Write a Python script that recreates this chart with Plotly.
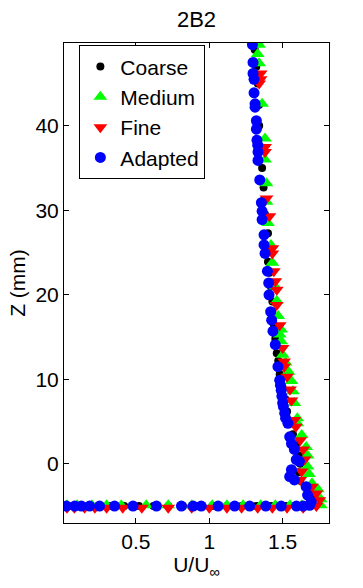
import plotly.graph_objects as go

# Coarse grid
coarse_u = [0.02, 0.07, 0.12, 0.18, 0.25, 0.33, 0.42, 0.52, 0.62, 0.72, 0.82, 0.92, 1.02, 1.12,
            1.22, 1.32, 1.42, 1.52, 1.60, 1.66,
            1.70, 1.72, 1.70, 1.66, 1.62, 1.61, 1.62, 1.61, 1.59, 1.57, 1.55, 1.53, 1.52, 1.50,
            1.48, 1.47, 1.46, 1.45, 1.44, 1.43, 1.43, 1.42, 1.41, 1.40, 1.40, 1.40, 1.38, 1.37,
            1.37, 1.36, 1.35, 1.34, 1.34, 1.33, 1.32, 1.31, 1.31]
coarse_z = [-5.0, -5.0, -5.0, -5.0, -5.0, -5.0, -5.0, -5.0, -5.0, -5.0, -5.0, -5.0, -5.0, -5.0,
            -5.0, -5.0, -5.0, -5.0, -5.0, -5.0,
            -4.6, -4.0, -3.3, -2.6, -2.0, -1.0, 0.0, 1.0, 2.2, 3.5, 4.8, 6.2, 7.6, 9.0,
            10.6, 12.2, 13.1, 14.8, 16.5, 18.0, 19.2, 21.0, 22.6, 23.9, 25.5, 27.3, 29.5, 31.2,
            32.7, 35.0, 37.5, 40.0, 42.5, 45.0, 47.0, 49.0, 49.6]

# Medium grid
medium_u = [0.03, 0.10, 0.20, 0.30, 0.40, 0.57, 0.72, 0.88, 1.02, 1.12, 1.23, 1.35, 1.45, 1.55, 1.63,
            1.76, 1.76, 1.74, 1.70, 1.68, 1.67, 1.67, 1.66, 1.63, 1.60, 1.60, 1.58, 1.57, 1.56,
            1.54, 1.52, 1.50, 1.49, 1.49, 1.48, 1.47, 1.46, 1.45, 1.43, 1.42, 1.40, 1.39, 1.39,
            1.38, 1.38, 1.36, 1.34, 1.33, 1.34]
medium_z = [-4.9, -4.9, -4.9, -4.9, -4.9, -4.9, -4.9, -4.9, -4.9, -4.9, -4.9, -4.9, -4.9, -4.9, -4.9,
            -4.9, -4.2, -3.0, -2.3, -1.2, -0.3, 1.0, 2.0, 3.4, 4.8, 5.4, 7.2, 8.6, 9.8,
            10.9, 12.0, 12.9, 14.5, 15.9, 15.3, 17.5, 19.3, 21.0, 23.8, 25.9, 28.5, 31.0, 33.2,
            36.0, 38.5, 42.6, 47.4, 48.5, 49.6]

# Fine grid
fine_u = [0.03, 0.08, 0.15, 0.22, 0.30, 0.41, 0.54, 0.72, 0.88, 1.00, 1.12, 1.22, 1.33, 1.43, 1.53, 1.64,
          1.73, 1.75, 1.73, 1.70, 1.62, 1.63, 1.65, 1.64, 1.62, 1.59, 1.58, 1.56, 1.55, 1.53,
          1.51, 1.51, 1.50, 1.48, 1.46, 1.46, 1.45, 1.44, 1.43, 1.43, 1.41, 1.39, 1.38, 1.38,
          1.34, 1.35, 1.35]
fine_z = [-5.2, -5.2, -5.2, -5.2, -5.2, -5.2, -5.2, -5.2, -5.2, -5.2, -5.2, -5.2, -5.2, -5.2, -5.2, -5.2,
          -5.0, -4.3, -3.5, -2.7, -1.9, -0.9, 0.5, 1.7, 2.8, 4.4, 5.2, 7.5, 8.8, 10.3,
          11.5, 12.1, 13.7, 16.4, 18.8, 20.6, 21.6, 22.8, 24.9, 25.5, 29.3, 31.4, 36.9, 37.5,
          45.0, 45.5, 46.2]

# Adapted grid
adapted_u = [0.026, 0.083, 0.128, 0.184, 0.252, 0.354, 0.48, 0.64, 0.81, 0.89, 0.945, 1.06, 1.173,
             1.275, 1.385, 1.49, 1.594, 1.64,
             1.684, 1.695, 1.67, 1.66, 1.58, 1.548, 1.56, 1.614, 1.593, 1.58, 1.56, 1.548, 1.536,
             1.52, 1.514, 1.505, 1.50, 1.495, 1.49, 1.485, 1.48, 1.468, 1.45, 1.434, 1.425, 1.418,
             1.407, 1.405, 1.396, 1.38, 1.373, 1.373, 1.36, 1.36, 1.355, 1.344, 1.332, 1.332, 1.33,
             1.325, 1.321, 1.321, 1.312, 1.312, 1.305, 1.305, 1.298, 1.298, 1.294]
adapted_z = [-5.0, -5.0, -5.0, -5.0, -5.0, -5.0, -5.0, -5.0, -5.0, -5.0, -5.0, -5.0, -5.0,
             -5.0, -5.0, -5.0, -5.0, -5.0,
             -4.9, -4.5, -3.7, -2.7, -1.9, -1.5, -0.7, 0.3, 0.5, 1.7, 2.4, 3.2, 4.8,
             5.4, 6.0, 6.8, 7.2, 8.0, 8.7, 9.3, 9.9, 11.5, 14.1, 15.7, 17.0, 18.0,
             20.0, 21.4, 22.8, 24.9, 25.9, 27.1, 28.9, 29.9, 30.9, 33.6, 35.9, 36.9, 37.7,
             38.3, 39.6, 40.6, 42.2, 42.6, 43.9, 45.5, 46.2, 47.5, 49.6]

fig = go.Figure()
fig.add_trace(go.Scatter(x=coarse_u, y=coarse_z, mode='markers', name='Coarse',
                         marker=dict(symbol='circle', size=8, color='black')))
fig.add_trace(go.Scatter(x=medium_u, y=medium_z, mode='markers', name='Medium',
                         marker=dict(symbol='triangle-up', size=12, color='#00ff00')))
fig.add_trace(go.Scatter(x=fine_u, y=fine_z, mode='markers', name='Fine',
                         marker=dict(symbol='triangle-down', size=12, color='#ff0000')))
fig.add_trace(go.Scatter(x=adapted_u, y=adapted_z, mode='markers', name='Adapted',
                         marker=dict(symbol='circle', size=11, color='#0000ff')))

axis_style = dict(showgrid=False, zeroline=False, showline=True, linecolor='black', linewidth=1,
                  mirror='ticks', ticks='inside', ticklen=5, tickcolor='black',
                  tickfont=dict(size=21, color='black'))

fig.update_layout(
    width=363, height=588,
    margin=dict(l=64, r=34, t=43, b=65),
    paper_bgcolor='white', plot_bgcolor='white',
    font=dict(family='Liberation Sans, Arial, sans-serif', color='black'),
    title=dict(text='2B2', x=0.5, xref='paper', y=1 - 19 / 588, yref='container',
               yanchor='middle', font=dict(size=22)),
    xaxis=dict(range=[0.0095, 1.816], tickvals=[0.5, 1, 1.5], ticktext=['0.5', '1', '1.5'],
               title=dict(text='U/U<sub>∞</sub>', font=dict(size=21), standoff=0), **axis_style),
    yaxis=dict(range=[-7, 49.8], tickvals=[0, 10, 20, 30, 40],
               title=dict(text='Z (mm)', font=dict(size=21), standoff=4), **axis_style),
    legend=dict(x=0.058, y=0.995, xanchor='left', yanchor='top', bgcolor='white',
                bordercolor='black', borderwidth=1, font=dict(size=21), itemwidth=30),
)

# the page's default body margin would shift the figure by 8px
fig.write_html("out.html", config={'displayModeBar': False},
               post_script="document.body.style.margin='0';")
